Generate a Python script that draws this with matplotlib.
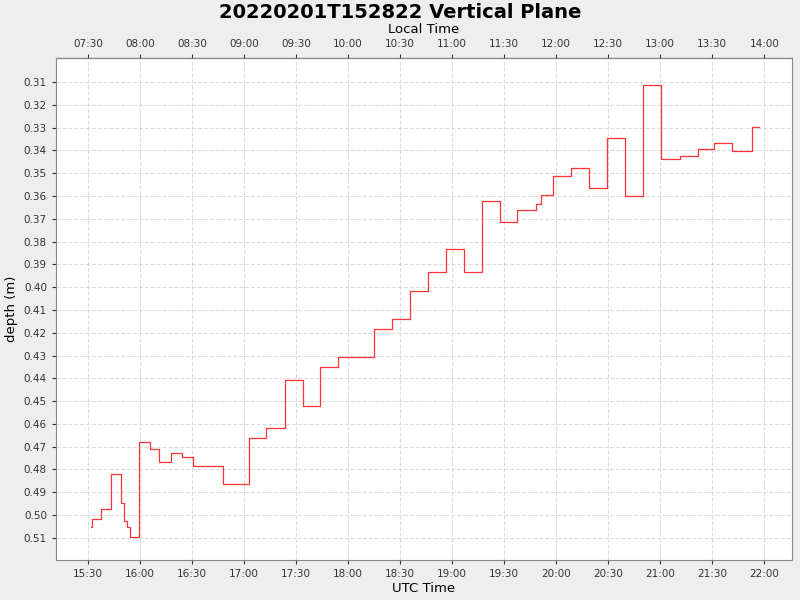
import numpy as np
import matplotlib.pyplot as plt
from matplotlib.ticker import FuncFormatter, MultipleLocator, FixedLocator

# minutes after 15:00 UTC, and depth (m)
t_min = [31.7, 32.3, 37.5, 43.3, 48.5, 49.0, 50.8, 52.5, 54.2, 59.4, 65.8, 71.0, 77.9,
         84.2, 90.6, 107.9, 122.9, 132.7, 143.7, 154.0, 163.8, 174.2, 195.0, 205.4,
         215.8, 226.2, 236.5, 246.9, 257.3, 267.7, 277.5, 288.5, 291.3, 298.3, 308.7,
         319.0, 329.4, 339.8, 350.2, 360.6, 371.5, 381.9, 391.2, 401.5, 413.1, 417.1]
depth = [0.5052, 0.5017, 0.4973, 0.4820, 0.4820, 0.4947, 0.5026, 0.5052, 0.5096, 0.4679,
         0.4710, 0.4767, 0.4727, 0.4745, 0.4784, 0.4863, 0.4661, 0.4618, 0.4407, 0.4521,
         0.4350, 0.4306, 0.4183, 0.4139, 0.4017, 0.3933, 0.3832, 0.3933, 0.3622, 0.3714,
         0.3661, 0.3635, 0.3596, 0.3512, 0.3477, 0.3565, 0.3346, 0.3600, 0.3113, 0.3438,
         0.3425, 0.3394, 0.3368, 0.3403, 0.3297, 0.3297]
depth_ticks = [0.31 + 0.01 * i for i in range(21)]
utc_offset_h = -8

x = 15 + np.array(t_min) / 60.0

fig = plt.figure(figsize=(8, 6), dpi=100, facecolor='#eeeeee')
ax = fig.add_axes([0.07, 0.0667, 0.92, 0.8366])
ax.set_facecolor('white')
ax.plot(x, depth, color='#ff3333', lw=0.9, drawstyle='steps-post')

ax.set_xlim(15 + 11.5 / 60, 22 + 16 / 60)
ax.set_ylim(0.5197, 0.2995)
ax.yaxis.set_major_locator(FixedLocator(depth_ticks))
ax.yaxis.set_major_formatter(FuncFormatter(lambda v, p: f"{v:.2f}"))
ax.xaxis.set_major_locator(MultipleLocator(0.5))

def hhmm(v, off=0):
    m = int(round(v * 60)) + off * 60
    m %= 24 * 60
    return f"{m // 60:02d}:{m % 60:02d}"

ax.xaxis.set_major_formatter(FuncFormatter(lambda v, p: hhmm(v)))
ax.grid(True, color='#dddddd', ls='--', lw=0.8)
ax.tick_params(labelsize=7.5, colors='#333333', length=3)
ax.set_xlabel('UTC Time', fontsize=9.5, labelpad=2)
ax.set_ylabel('depth (m)', fontsize=9.5, labelpad=4)

top = ax.secondary_xaxis('top')
top.xaxis.set_major_locator(MultipleLocator(0.5))
top.xaxis.set_major_formatter(FuncFormatter(lambda v, p: hhmm(v, utc_offset_h)))
top.tick_params(labelsize=7.5, colors='#333333', length=3)
top.set_xlabel('Local Time', fontsize=9.5, labelpad=4)

for s in ax.spines.values():
    s.set_color('#888888')

fig.text(0.5, 0.98, '20220201T152822 Vertical Plane', fontsize=14,
         fontweight='bold', ha='center', va='center')
fig.savefig('out.png', facecolor=fig.get_facecolor())
